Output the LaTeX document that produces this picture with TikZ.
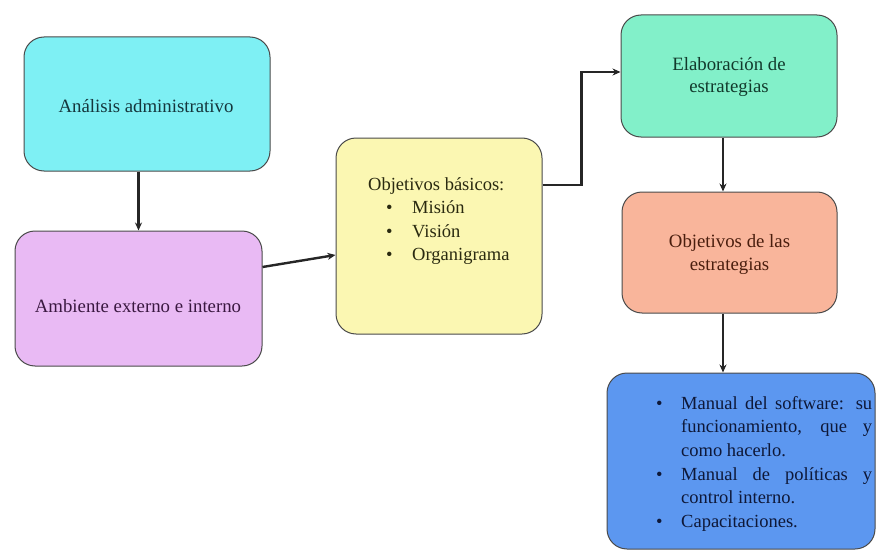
\documentclass[tikz,border=0pt]{standalone}
\usepackage{fontspec}
\setmainfont{Liberation Serif}
\usetikzlibrary{arrows.meta,calc}
\definecolor{bordc}{HTML}{4A4A4A}
\definecolor{cA}{HTML}{7EF0F4}
\definecolor{cB}{HTML}{E9BAF4}
\definecolor{cC}{HTML}{FBF7B2}
\definecolor{cD}{HTML}{82F0C9}
\definecolor{cE}{HTML}{F9B59B}
\definecolor{cF}{HTML}{5C97F0}
\definecolor{tA}{HTML}{15363C}
\definecolor{tB}{HTML}{3A1840}
\definecolor{tC}{HTML}{2A2A10}
\definecolor{tD}{HTML}{123A2C}
\definecolor{tE}{HTML}{4A1E0E}
\definecolor{tF}{HTML}{0E1838}
\begin{document}
\begin{tikzpicture}[x=1pt,y=-1pt,
  box/.style={draw=bordc,line width=1pt,rounded corners=20pt,inner sep=0pt},
  txt/.style={inner sep=0pt,font=\fontsize{18.8}{22}\selectfont,align=center},
  conn/.style={line width=2.4pt,draw=black!85,-{Stealth[length=8pt,width=7pt]}}]
\useasboundingbox (0,0) rectangle (876,551);
\fill[white] (0,0) rectangle (876,551);
\node[box,fill=cA,minimum width=246pt,minimum height=134pt] (A) at (147,104) {};
\node[txt,text=tA] (At) at (146,106) {Análisis administrativo};
\node[box,fill=cB,minimum width=247pt,minimum height=135pt] (B) at (138.5,298.5) {};
\node[txt,text=tB] (Bt) at (138,306) {Ambiente externo e interno};
\node[box,fill=cC,minimum width=206pt,minimum height=196pt] (C) at (439,236) {};
\node[inner sep=0pt,anchor=north west,text=tC,font=\fontsize{18.5}{24.5}\selectfont] (Ct) at (368,173)
  {\begin{tabular}{@{}l@{}}Objetivos básicos:\\[-1pt]
   \hspace{18pt}\makebox[26pt][l]{\textbullet}Misión\\[-1pt]
   \hspace{18pt}\makebox[26pt][l]{\textbullet}Visión\\[-1pt]
   \hspace{18pt}\makebox[26pt][l]{\textbullet}Organigrama\end{tabular}};
\node[box,fill=cD,minimum width=216pt,minimum height=122pt] (D) at (729,76) {};
\node[txt,text=tD] (Dt) at (729,77) {Elaboración de\\estrategias};
\node[box,fill=cE,minimum width=215pt,minimum height=121pt] (E) at (729.5,252.5) {};
\node[txt,text=tE,font=\fontsize{18.8}{23}\selectfont] (Et) at (729.5,255) {Objetivos de las\\estrategias};
\node[box,fill=cF,minimum width=268pt,minimum height=176pt] (F) at (741,461) {};
\node[inner sep=0pt,anchor=north west,text=tF] (Ft) at (656,396)
  {\begin{minipage}{216pt}\fontsize{18.5}{23.6}\selectfont
   \hangindent=25pt\hangafter=1\noindent\makebox[25pt][l]{\textbullet}Manual del software: su\linebreak funcionamiento, que y como hacerlo.\par
   \hangindent=25pt\hangafter=1\noindent\makebox[25pt][l]{\textbullet}Manual de políticas y\linebreak control interno.\par
   \hangindent=25pt\hangafter=1\noindent\makebox[25pt][l]{\textbullet}Capacitaciones.\par
   \end{minipage}};
\coordinate (d1) at ($(D.south)+(-6,0)$);
\coordinate (e1) at ($(E.south)+(-6.5,0)$);
\draw[conn] (A.south -| B.north) -- (B.north);
\draw[conn] ($(B.east)+(0,-31.5)$) -- ($(C.west)+(0,19)$);
\draw[conn] ($(C.east)+(0,-51)$) -- ++(39,0) |- ($(D.west)+(0,-4)$);
\draw[conn] (d1) -- (d1 |- E.north);
\draw[conn] (e1) -- (e1 |- F.north);
\end{tikzpicture}
\end{document}
